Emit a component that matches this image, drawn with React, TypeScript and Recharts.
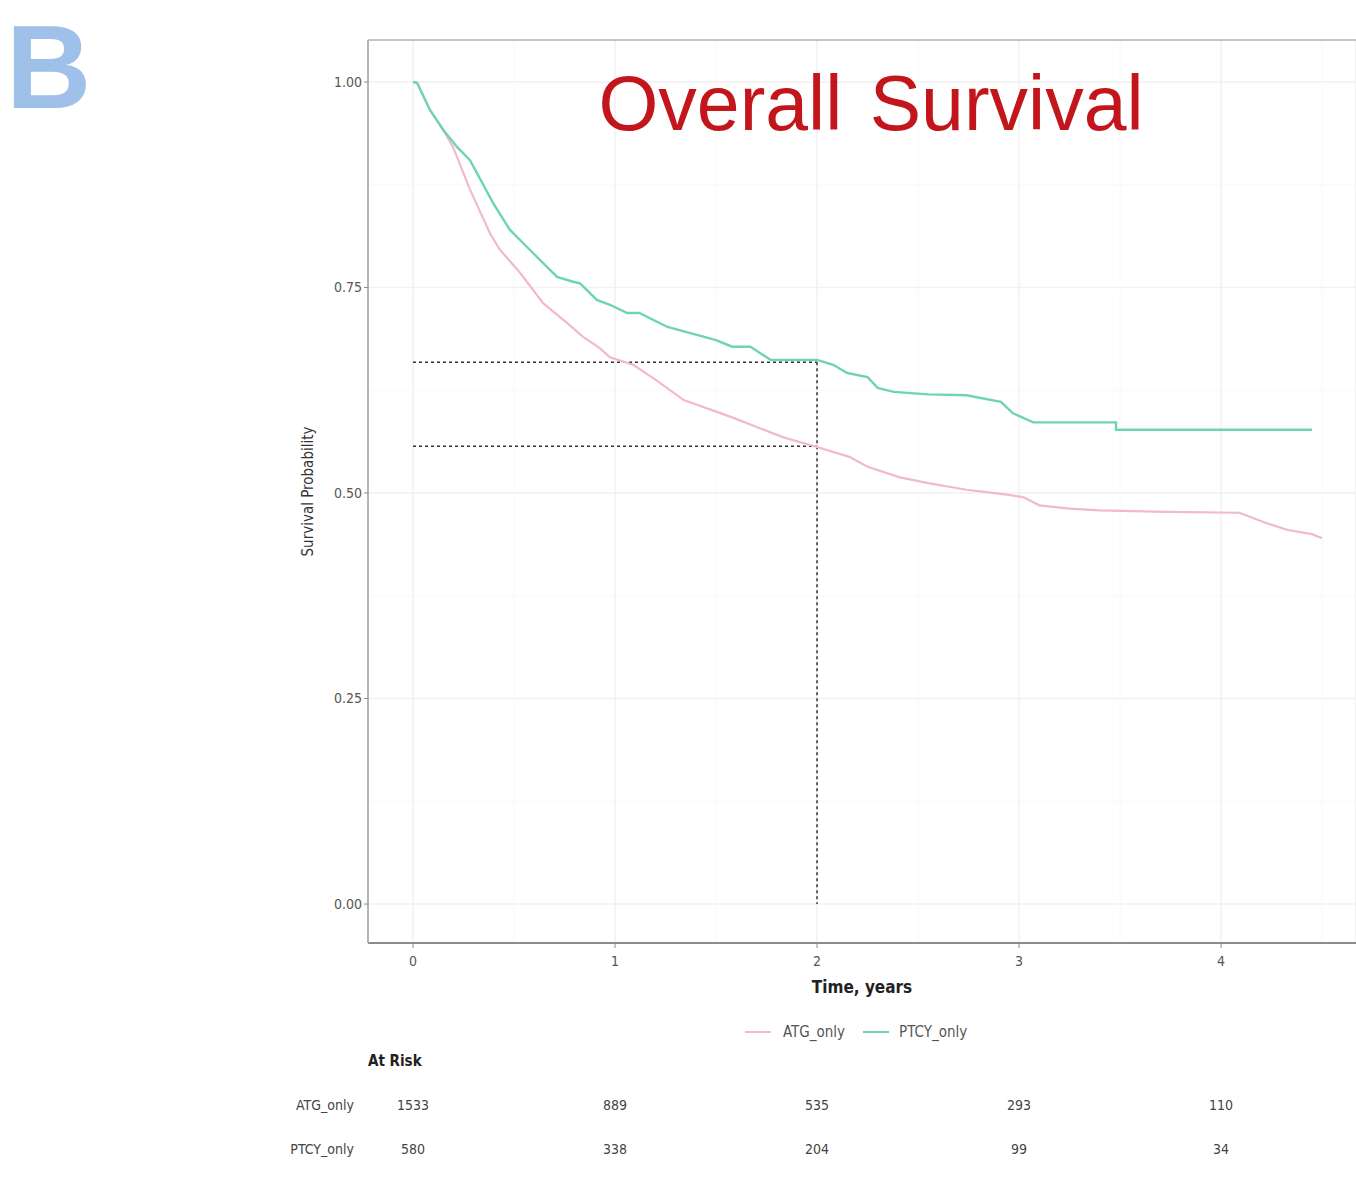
import React from "react";
import {
  ComposedChart,
  LineChart,
  Line,
  Scatter,
  XAxis,
  YAxis,
  CartesianGrid,
  ReferenceLine,
} from "recharts";

// Kaplan-Meier estimates (time in years, survival probability)
const ptcyTime = [
  0, 0.02, 0.084, 0.149, 0.218, 0.282, 0.396, 0.48, 0.594, 0.713, 0.792, 0.827, 0.91, 0.975,
  1.06, 1.12, 1.26, 1.5, 1.58, 1.67, 1.77, 2.0, 2.08, 2.15, 2.25, 2.3, 2.38, 2.55, 2.74, 2.91,
  2.97, 3.07, 3.48, 3.48, 4.45,
];
const ptcySurv = [
  1.0, 0.999, 0.966, 0.942, 0.921, 0.905, 0.853, 0.82, 0.792, 0.763, 0.757, 0.755, 0.735, 0.729,
  0.719, 0.719, 0.702, 0.686, 0.678, 0.678, 0.662, 0.662, 0.656, 0.646, 0.641, 0.628, 0.623,
  0.62, 0.619, 0.611, 0.597, 0.586, 0.586, 0.577, 0.577,
];

const atgTime = [
  0, 0.02, 0.084, 0.149, 0.198, 0.282, 0.381, 0.43, 0.53, 0.644, 0.762, 0.842, 0.926, 0.975,
  1.09, 1.2, 1.34, 1.58, 1.83, 2.0, 2.16, 2.25, 2.41, 2.55, 2.74, 2.94, 3.02, 3.1, 3.25, 3.4,
  3.73, 4.09, 4.23, 4.33, 4.45, 4.5,
];
const atgSurv = [
  1.0, 0.999, 0.966, 0.942, 0.921, 0.869, 0.816, 0.796, 0.768, 0.731, 0.707, 0.69, 0.676, 0.665,
  0.656, 0.638, 0.613, 0.592, 0.568, 0.556, 0.544, 0.532, 0.519, 0.512, 0.504, 0.498, 0.495,
  0.485, 0.481, 0.479, 0.477, 0.476, 0.463, 0.455, 0.45, 0.445,
];

// landmark at 2 years
const landmarkTime = 2;
const ptcyAtLandmark = 0.659;
const atgAtLandmark = 0.557;

// number at risk table
const groups = ["ATG_only", "PTCY_only"];
const riskYears = [0, 1, 2, 3, 4];
const atgRisk = [1533, 889, 535, 293, 110];
const ptcyRisk = [580, 338, 204, 99, 34];

const xTicks = [0, 1, 2, 3, 4];
const yTicks = [0, 0.25, 0.5, 0.75, 1];
const xMinor = [0.5, 1.5, 2.5, 3.5, 4.5];
const yMinor = [0.125, 0.375, 0.625, 0.875];

const X_DOMAIN: [number, number] = [-0.2228, 4.668];
const Y_DOMAIN: [number, number] = [-0.0474, 1.0511];

const ATG_COLOR = "#f2b9c9";
const PTCY_COLOR = "#6fd4b3";
const NARROW = "'Liberation Sans Narrow', 'DejaVu Sans Condensed', 'Liberation Sans', Arial, sans-serif";

const ptcyData = ptcyTime.map((t, i) => ({ t, s: ptcySurv[i] }));
const atgData = atgTime.map((t, i) => ({ t, s: atgSurv[i] }));
const riskData = [
  ...riskYears.map((t, i) => ({ t, row: 1, n: atgRisk[i] })),
  ...riskYears.map((t, i) => ({ t, row: 2, n: ptcyRisk[i] })),
];

const fmtY = (v: number) => v.toFixed(2);

export default function App() {
  return (
    <div
      style={{
        position: "absolute",
        left: 0,
        top: 0,
        width: 1356,
        height: 1181,
        background: "#fff",
        overflow: "hidden",
        fontFamily: "'Liberation Sans', Arial, sans-serif",
      }}
    >
      <div
        style={{
          position: "absolute",
          left: 6,
          top: 2,
          fontSize: 118,
          fontWeight: 700,
          color: "#9fc0e8",
          lineHeight: "130px",
        }}
      >
        B
      </div>

      <div style={{ position: "absolute", left: 0, top: 0 }}>
        <LineChart width={1356} height={1003} margin={{ top: 40, right: 0, left: 0, bottom: 0 }}>
          {yMinor.map((v) => (
            <ReferenceLine key={"ym" + v} y={v} stroke="#f8f8f8" strokeWidth={1} />
          ))}
          {xMinor.map((v) => (
            <ReferenceLine key={"xm" + v} x={v} stroke="#f8f8f8" strokeWidth={1} />
          ))}
          <CartesianGrid stroke="#f1f1f1" strokeWidth={1.5} />
          <XAxis
            type="number"
            dataKey="t"
            domain={X_DOMAIN}
            ticks={xTicks}
            allowDataOverflow
            height={60}
            axisLine={{ stroke: "#8c8c8c", strokeWidth: 2 }}
            tickLine={{ stroke: "#8c8c8c" }}
            tickSize={5}
            tickMargin={8}
            tick={{ fill: "#555", fontSize: 14, fontFamily: NARROW }}
            label={{
              value: "Time, years",
              position: "insideBottom",
              offset: 10,
              fill: "#222",
              fontSize: 17,
              fontWeight: 700,
              fontFamily: NARROW,
            }}
          />
          <YAxis
            type="number"
            dataKey="s"
            domain={Y_DOMAIN}
            ticks={yTicks}
            allowDataOverflow
            width={368}
            tickFormatter={fmtY}
            axisLine={{ stroke: "#b5b5b5", strokeWidth: 2 }}
            tickLine={{ stroke: "#8c8c8c" }}
            tickSize={4}
            tick={{ fill: "#555", fontSize: 14, fontFamily: NARROW }}
            label={{
              value: "Survival Probability",
              angle: -90,
              position: "insideRight",
              offset: 60,
              fill: "#333",
              fontSize: 15,
              fontFamily: NARROW,
              style: { textAnchor: "middle" },
            }}
          />
          <ReferenceLine y={Y_DOMAIN[1]} stroke="#c4c4c4" strokeWidth={2} ifOverflow="extendDomain" />
          <ReferenceLine
            segment={[
              { x: 0, y: ptcyAtLandmark },
              { x: landmarkTime, y: ptcyAtLandmark },
            ]}
            stroke="#333"
            strokeWidth={1.5}
            strokeDasharray="3 3"
          />
          <ReferenceLine
            segment={[
              { x: 0, y: atgAtLandmark },
              { x: landmarkTime, y: atgAtLandmark },
            ]}
            stroke="#333"
            strokeWidth={1.5}
            strokeDasharray="3 3"
          />
          <ReferenceLine
            segment={[
              { x: landmarkTime, y: ptcyAtLandmark },
              { x: landmarkTime, y: 0 },
            ]}
            stroke="#333"
            strokeWidth={1.5}
            strokeDasharray="3 3"
          />
          <Line
            data={atgData}
            dataKey="s"
            type="linear"
            stroke={ATG_COLOR}
            strokeWidth={2.2}
            dot={false}
            isAnimationActive={false}
          />
          <Line
            data={ptcyData}
            dataKey="s"
            type="linear"
            stroke={PTCY_COLOR}
            strokeWidth={2.4}
            dot={false}
            isAnimationActive={false}
          />
        </LineChart>
      </div>

      <div
        style={{
          position: "absolute",
          left: 0,
          top: 48,
          width: 1742,
          textAlign: "center",
          fontSize: 77,
          color: "#c3161c",
          wordSpacing: 6,
          lineHeight: "110px",
        }}
      >
        Overall Survival
      </div>

      {/* legend */}
      <div
        style={{
          position: "absolute",
          top: 1023,
          left: 745,
          display: "flex",
          alignItems: "center",
          fontSize: 15,
          color: "#555",
          fontFamily: NARROW,
        }}
      >
        <span style={{ width: 26, height: 2, background: ATG_COLOR, display: "inline-block" }} />
        <span style={{ marginLeft: 12 }}>ATG_only</span>
        <span
          style={{ width: 26, height: 2, background: PTCY_COLOR, display: "inline-block", marginLeft: 18 }}
        />
        <span style={{ marginLeft: 10 }}>PTCY_only</span>
      </div>

      <div
        style={{
          position: "absolute",
          top: 1052,
          left: 368,
          fontSize: 15,
          fontWeight: 700,
          color: "#222",
          fontFamily: NARROW,
        }}
      >
        At Risk
      </div>

      <div style={{ position: "absolute", left: 0, top: 1083 }}>
        <ComposedChart width={1356} height={88} data={riskData} margin={{ top: 0, right: 0, left: 0, bottom: 0 }}>
          <XAxis type="number" dataKey="t" domain={X_DOMAIN} allowDataOverflow hide />
          <YAxis
            type="number"
            dataKey="row"
            domain={[0.5, 2.5]}
            reversed
            ticks={[1, 2]}
            width={368}
            axisLine={false}
            tickLine={false}
            tickFormatter={(v: number) => groups[v - 1] ?? ""}
            tick={{ fill: "#444", fontSize: 14, fontFamily: NARROW, dx: -6 }}
          />
          <Scatter
            dataKey="row"
            isAnimationActive={false}
            shape={(p: any) => (
              <text
                x={p.cx}
                y={p.cy}
                dy={5}
                textAnchor="middle"
                fontSize={14}
                fill="#444"
                fontFamily={NARROW}
              >
                {p.payload.n}
              </text>
            )}
          />
        </ComposedChart>
      </div>
    </div>
  );
}
